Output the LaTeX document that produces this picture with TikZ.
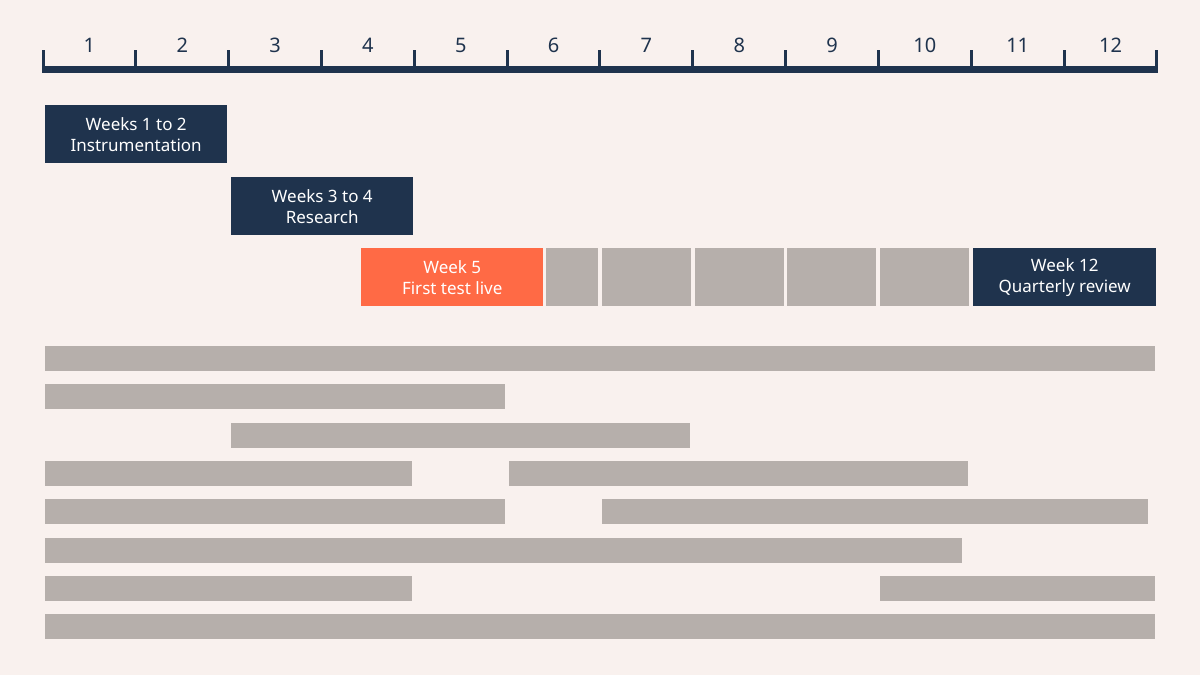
\documentclass[tikz,border=0pt]{standalone}
\usepackage{fontspec}
\setmainfont{Noto Sans}
\usetikzlibrary{positioning}
\definecolor{bgpink}{HTML}{F9F1EE}
\definecolor{navy}{HTML}{1F334D}
\definecolor{coral}{HTML}{FF6A45}
\definecolor{stone}{HTML}{B6AFAB}

\begin{document}
\begin{tikzpicture}[x=1pt,y=-1pt,
	phase/.style={fill=navy,text=white,align=center,inner sep=0pt,
		minimum width=182pt,minimum height=58pt,anchor=north west,
		font=\fontsize{17}{21}\selectfont},
	live/.style={phase,fill=coral,text=white},
	slot/.style={fill=stone,inner sep=0pt,minimum height=58pt,anchor=north west},
	bar/.style={fill=stone},
	weeknum/.style={text=navy,font=\fontsize{20}{24}\selectfont}]
			\fill[bgpink] (0,0) rectangle (1200,675);
			\useasboundingbox (0,0) rectangle (1200,675);
			% ruler
			\draw[navy,line width=6.5pt] (42,69.5) -- (1158,69.5);
			\foreach \i in {0,...,12}
			\draw[navy,line width=3pt] (43+\i*92.83,50) -- (43+\i*92.83,70);
			\foreach \i in {1,...,12}
			\node[weeknum] (w\i) at (43+\i*92.83-46.4,45) {\i};
			% milestones
			\node[phase] (instr) at (45,105) {Weeks 1 to 2\\Instrumentation};
			\node[phase] (research) at (231,177) {Weeks 3 to 4\\Research};
			\node[live] (test) at (361,248) {Week 5\\First test live};
			\node[slot,minimum width=52pt] (s6) at (546,248) {};
			\node[slot,minimum width=89pt] (s7) at (602,248) {};
			\node[slot,minimum width=89pt] (s8) at (695,248) {};
			\node[slot,minimum width=89pt] (s9) at (787,248) {};
			\node[slot,minimum width=89pt] (s10) at (880,248) {};
			\node[phase,minimum width=183pt] (review) at (973,248) {Week 12\\Quarterly review};
			% bars
			\foreach \r/\a/\b in {0/45/1155,1/45/505,2/231/690,3/45/412,3/509/968,
				4/45/505,4/602/1148,5/45/962,6/45/412,6/880/1155,7/45/1155}
			\fill[bar] (\a,346+\r*38.33) rectangle (\b,371+\r*38.33);
\end{tikzpicture}
\end{document}
